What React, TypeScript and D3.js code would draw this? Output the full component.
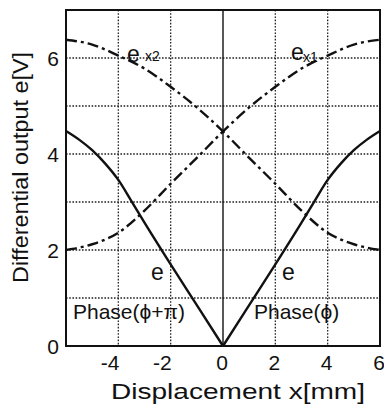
import React from "react";
import * as d3 from "d3";

// Displacement positions (mm) sampled for the two coil outputs
const xSamples = [-6, -5, -4, -3, -2, -1, 0, 1, 2, 3, 4, 5, 6];
// Coil output e_x1 (rising) and e_x2 (falling), volts
const ex1Values = [2.0, 2.12, 2.36, 2.82, 3.38, 3.92, 4.47, 4.97, 5.4, 5.78, 6.05, 6.28, 6.38];
const ex2Values = [6.38, 6.28, 6.05, 5.78, 5.4, 4.97, 4.47, 3.92, 3.38, 2.82, 2.36, 2.12, 2.0];

// Differential output e, left branch (phase φ+π) and right branch (phase φ)
const eLeftX = [-6, -5.5, -5, -4.5, -4, -3.5, -3, -2, -1, 0];
const eLeftValues = [4.48, 4.3, 4.08, 3.8, 3.46, 3.02, 2.57, 1.7, 0.85, 0];
const eRightX = [0, 1, 2, 3, 3.5, 4, 4.5, 5, 5.5, 6];
const eRightValues = [0, 0.85, 1.7, 2.57, 3.02, 3.46, 3.8, 4.08, 4.3, 4.48];

const xTicks = [-4, -2, 0, 2, 4, 6];
const yTicks = [0, 2, 4, 6];
const xGrid = [-4, -2, 2, 4];
const yGrid = [1, 2, 3, 4, 5, 6];

const W = 384;
const H = 405;
const left = 66;
const right = 380;
const top = 10;
const bottom = 346;

const FONT = "'Liberation Sans', Arial, Helvetica, sans-serif";

export default function App() {
  const x = d3.scaleLinear().domain([-6, 6]).range([left, right]);
  const y = d3.scaleLinear().domain([0, 7]).range([bottom, top]);

  const line = d3
    .line<[number, number]>()
    .x((d) => x(d[0]))
    .y((d) => y(d[1]))
    .curve(d3.curveMonotoneX);

  const ex1Path = line(xSamples.map((v, i) => [v, ex1Values[i]]) as [number, number][]);
  const ex2Path = line(xSamples.map((v, i) => [v, ex2Values[i]]) as [number, number][]);
  const eLeftPath = line(eLeftX.map((v, i) => [v, eLeftValues[i]]) as [number, number][]);
  const eRightPath = line(eRightX.map((v, i) => [v, eRightValues[i]]) as [number, number][]);

  const dashDot = "11,4,3,4";

  return (
    <svg
      width={W}
      height={H}
      style={{ position: "absolute", left: 0, top: 0, background: "#fff" }}
      fontFamily={FONT}
    >
      <rect x={0} y={0} width={W} height={H} fill="#fff" />

      {/* dotted grid */}
      {xGrid.map((v) => (
        <line
          key={"gx" + v}
          x1={x(v)}
          x2={x(v)}
          y1={top}
          y2={bottom}
          stroke="#222"
          strokeWidth={1.3}
          strokeDasharray="1.6,1.6"
        />
      ))}
      {yGrid.map((v) => (
        <line
          key={"gy" + v}
          x1={left}
          x2={right}
          y1={y(v)}
          y2={y(v)}
          stroke="#222"
          strokeWidth={1.3}
          strokeDasharray="1.6,1.6"
        />
      ))}
      {/* x = 0 reference */}
      <line x1={x(0)} x2={x(0)} y1={top} y2={bottom} stroke="#111" strokeWidth={1.4} />

      {/* curves */}
      <path d={ex1Path || ""} fill="none" stroke="#111" strokeWidth={2.4} strokeDasharray={dashDot} />
      <path d={ex2Path || ""} fill="none" stroke="#111" strokeWidth={2.4} strokeDasharray={dashDot} />
      <path d={eLeftPath || ""} fill="none" stroke="#111" strokeWidth={2.4} />
      <path d={eRightPath || ""} fill="none" stroke="#111" strokeWidth={2.4} />

      {/* frame */}
      <rect
        x={left}
        y={top}
        width={right - left}
        height={bottom - top}
        fill="none"
        stroke="#111"
        strokeWidth={2}
      />

      {/* tick labels */}
      {yTicks.map((v) => (
        <text key={"ty" + v} x={59} y={y(v) + 7.5} fontSize={21} textAnchor="end" fill="#111">
          {v}
        </text>
      ))}
      {xTicks.map((v) => (
        <text
          key={"tx" + v}
          x={v < 0 ? x(v) + 1 : x(v) - 1}
          y={370}
          fontSize={21}
          textAnchor={v < 0 ? "end" : "middle"}
          fill="#111"
        >
          {v < 0 ? "-" + Math.abs(v) : v}
        </text>
      ))}

      {/* axis titles */}
      <text x={111} y={399} fontSize={22} textLength={254} lengthAdjust="spacingAndGlyphs" fill="#111">
        Displacement x[mm]
      </text>
      <text
        transform="translate(28,167.5) rotate(-90)"
        fontSize={22}
        textAnchor="middle"
        textLength={231}
        lengthAdjust="spacingAndGlyphs"
        fill="#111"
      >
        Differential output e[V]
      </text>

      {/* curve labels */}
      <text x={127} y={62} fontSize={23} fill="#111">e</text>
      <text x={145} y={61} fontSize={14} fill="#111">x2</text>
      <text x={291} y={60} fontSize={23} fill="#111">e</text>
      <text x={303} y={62} fontSize={14} fill="#111">x1</text>
      <text x={151} y={280} fontSize={23} fill="#111">e</text>
      <text x={282} y={280} fontSize={23} fill="#111">e</text>
      <text x={73} y={319} fontSize={21} fill="#111">Phase(ϕ+π)</text>
      <text x={254} y={319} fontSize={21} fill="#111">Phase(ϕ)</text>
    </svg>
  );
}
